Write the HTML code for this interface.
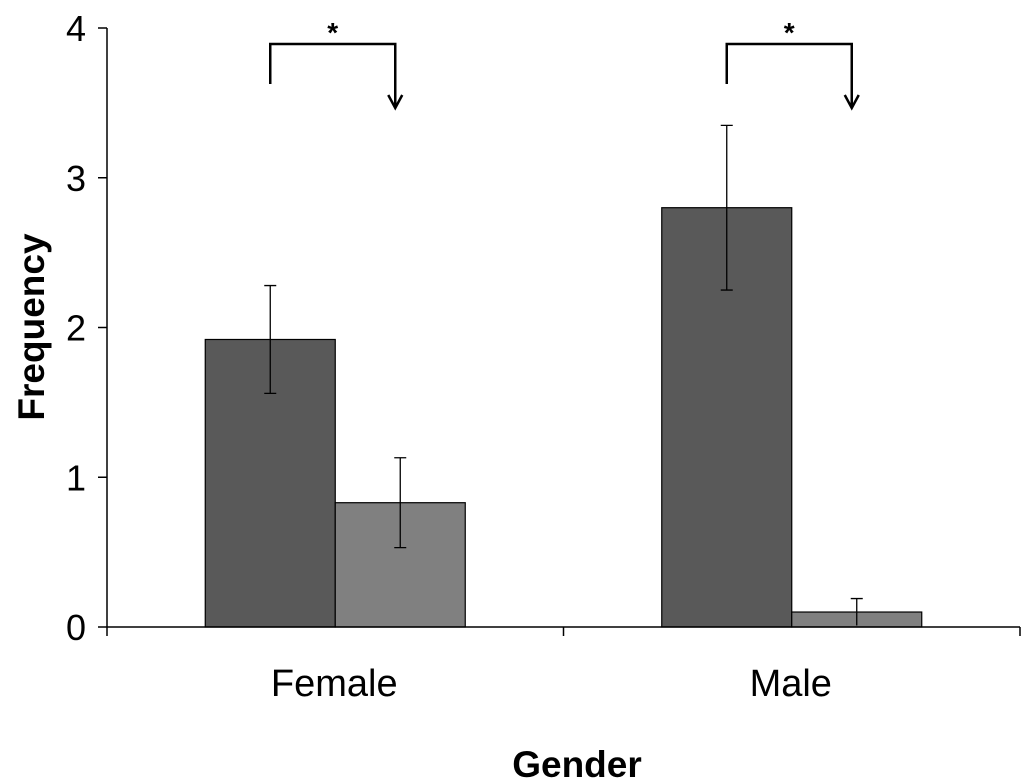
<!DOCTYPE html>
<html><head><meta charset="utf-8"><style>
body{margin:0;background:#fff;}
svg{display:block;font-family:"Liberation Sans",Arial,sans-serif;}
</style></head><body>
<svg id="chart" width="1024" height="784" viewBox="0 0 1024 784" xmlns="http://www.w3.org/2000/svg">
<g id="marks"></g>
<text transform="translate(44,327) rotate(-90)" text-anchor="middle" font-size="37" font-weight="bold" fill="#000">Frequency</text>
<text x="577" y="777" text-anchor="middle" font-size="37" font-weight="bold" fill="#000">Gender</text>
</svg>
<script>
const categories = ["Female", "Male"];
const seriesA = [1.92, 2.80];
const seriesB = [0.83, 0.10];
const errA = [0.36, 0.55];
const errB = [0.30, 0.09];
const yTicks = [0, 1, 2, 3, 4];

const NS = "http://www.w3.org/2000/svg";
const g = document.getElementById("marks");
const x0 = 107, x1 = 1020, yBase = 627, yTop = 28, yMax = 4;
const y = v => yBase - (v / yMax) * (yBase - yTop);
const groupW = (x1 - x0) / categories.length;
const barW = 130;
function mk(tag, attrs) { const e = document.createElementNS(NS, tag); for (const k in attrs) e.setAttribute(k, attrs[k]); g.appendChild(e); return e; }

let ax = mk("line", {x1: x0, y1: yTop, x2: x0, y2: yBase, stroke: "#000", "stroke-width": 1.5});


yTicks.forEach(t => {
  const tk = mk("line", {x1: x0 - 9, y1: y(t), x2: x0, y2: y(t), stroke: "#000", "stroke-width": 1.5});
  
  
  const tl = mk("text", {x: 86, y: y(t) + 13, "text-anchor": "end", "font-size": 36, fill: "#000"});
  tl.textContent = t;
  
  
});

categories.forEach((c, i) => {
  const cx = x0 + groupW * (i + 0.5);
  const xa = cx - barW, xb = cx;
  const ba = mk("rect", {x: xa, y: y(seriesA[i]), width: barW, height: yBase - y(seriesA[i]), fill: "#595959", stroke: "#000", "stroke-width": 1.2});
  
  
  const bb = mk("rect", {x: xb, y: y(seriesB[i]), width: barW, height: yBase - y(seriesB[i]), fill: "#808080", stroke: "#000", "stroke-width": 1.2});
  
  
  [[xa + barW / 2, seriesA[i], errA[i]], [xb + barW / 2, seriesB[i], errB[i]]].forEach(([ex, v, e]) => {
    const hi = y(v + e), lo = y(Math.max(0, v - e));
    const el = mk("path", {d: `M${ex},${hi}V${lo}M${ex-6},${hi}H${ex+6}` + (v - e > 0.03 ? `M${ex-6},${lo}H${ex+6}` : ""), stroke: "#000", "stroke-width": 1.3, fill: "none"});
    
    
  });
  const lx = xa + 65, rx = xb + 60;
  const br = mk("path", {d: `M${lx},84V44H${rx}V108M${rx-7},95L${rx},108L${rx+7},95`, stroke: "#000", "stroke-width": 2.5, fill: "none"});
  
  
  const st = mk("text", {x: (lx + rx) / 2, y: 42, "text-anchor": "middle", "font-size": 28, "font-weight": "bold", fill: "#000"});
  st.textContent = "*";
  
  
  const cl = mk("text", {x: cx - 1, y: 696, "text-anchor": "middle", "font-size": 38, fill: "#000"});
  cl.textContent = c;
  
  
});

const xa2 = mk("line", {x1: x0, y1: yBase, x2: x1, y2: yBase, stroke: "#000", "stroke-width": 1.5});


for (let i = 0; i <= categories.length; i++) {
  const tx = x0 + groupW * i;
  const tk = mk("line", {x1: tx, y1: yBase, x2: tx, y2: yBase + 9, stroke: "#000", "stroke-width": 1.5});
  
  
}
</script>
</body></html>
